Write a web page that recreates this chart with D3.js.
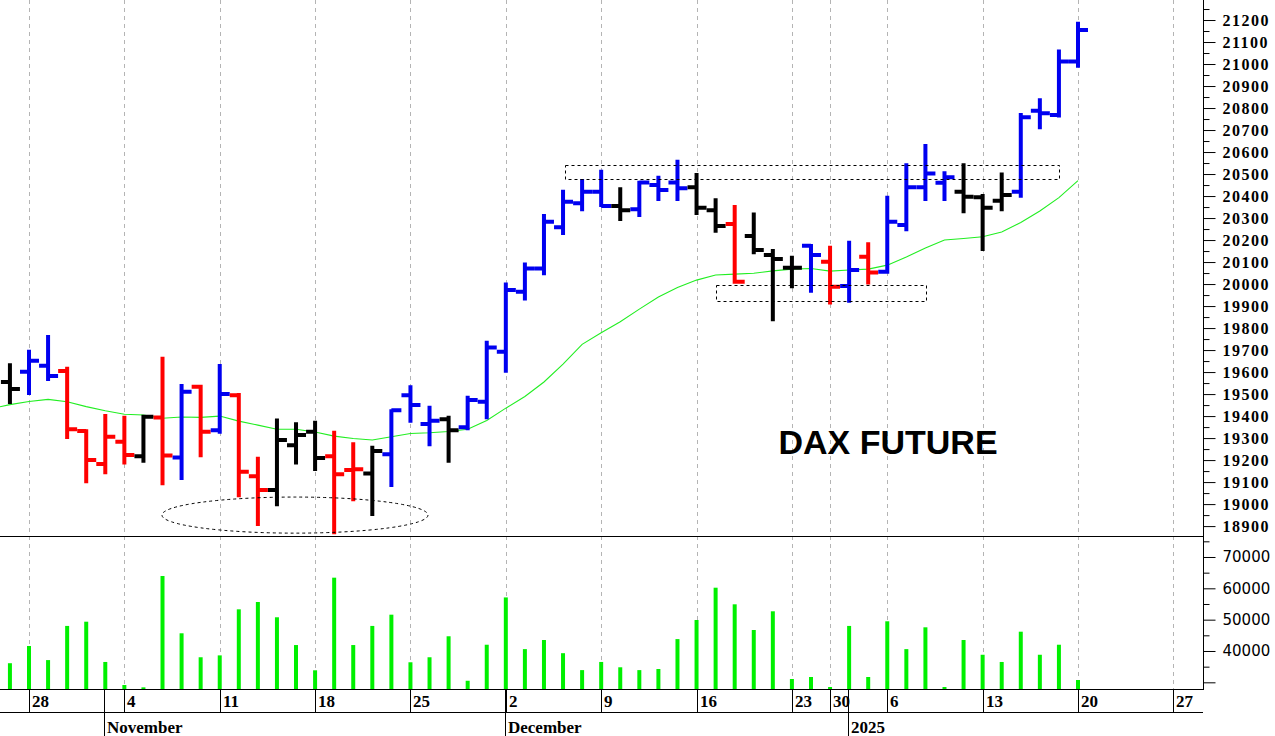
<!DOCTYPE html>
<html><head><meta charset="utf-8">
<script src="https://cdn.jsdelivr.net/npm/d3@7/dist/d3.min.js"></script>
<style>body{margin:0;background:#fff}svg{display:block}</style>
</head><body>
<svg id="c" width="1275" height="736"></svg>
<script>
// ---------------- DATA ----------------
// all trading sessions on the time axis (incl. future sessions up to the axis end)
const sessions = [
 "2024-10-24","2024-10-25","2024-10-28","2024-10-29","2024-10-30","2024-10-31","2024-11-01",
 "2024-11-04","2024-11-05","2024-11-06","2024-11-07","2024-11-08",
 "2024-11-11","2024-11-12","2024-11-13","2024-11-14","2024-11-15",
 "2024-11-18","2024-11-19","2024-11-20","2024-11-21","2024-11-22",
 "2024-11-25","2024-11-26","2024-11-27","2024-11-28","2024-11-29",
 "2024-12-02","2024-12-03","2024-12-04","2024-12-05","2024-12-06",
 "2024-12-09","2024-12-10","2024-12-11","2024-12-12","2024-12-13",
 "2024-12-16","2024-12-17","2024-12-18","2024-12-19","2024-12-20",
 "2024-12-23","2024-12-27","2024-12-30","2025-01-02","2025-01-03",
 "2025-01-06","2025-01-07","2025-01-08","2025-01-09","2025-01-10",
 "2025-01-13","2025-01-14","2025-01-15","2025-01-16","2025-01-17",
 "2025-01-20","2025-01-21","2025-01-22","2025-01-23","2025-01-24",
 "2025-01-27","2025-01-28","2025-01-29","2025-01-30","2025-01-31"
];
// price bars: Oct 25 2024 .. Jan 20 2025 (sessions[1..57])
const opens  = [19555,19601,19629,19605,19332,19182,19283,19218,19394,19212,19533,19336,19495,19127,19064,19268,19329,19218,19155,19139,19226,19495,19364,19386,19349,19465,19692,19965,20071,20258,20367,20420,20355,20340,20450,20462,20440,20336,20273,20218,20132,20074,20174,20101,19991,20124,20056,20268,20440,20460,20420,20394,20379,20420,20788,20768,21011];
const highs  = [19636,19697,19764,19620,19336,19405,19397,19401,19665,19541,19538,19632,19500,19211,19385,19367,19374,19329,19276,19261,19427,19536,19442,19397,19488,19738,20003,20094,20314,20424,20473,20515,20435,20465,20488,20560,20500,20385,20355,20321,20155,20124,20177,20170,20192,20185,20397,20545,20632,20508,20545,20405,20503,20773,20840,21061,21188];
const lows   = [19459,19500,19564,19300,19099,19140,19185,19192,19090,19114,19218,19324,19036,18905,18995,19185,19155,18867,19018,18950,19082,19374,19268,19192,19340,19390,19601,19930,20045,20227,20336,20355,20291,20309,20382,20382,20318,20238,20006,20140,19836,19985,19965,19912,19920,20003,20051,20245,20382,20382,20326,20155,20336,20397,20708,20761,20988];
const closes = [19523,19651,19582,19340,19200,19306,19223,19397,19221,19511,19329,19500,19147,19064,19291,19314,19210,19136,19158,19241,19427,19450,19379,19336,19473,19712,19973,20071,20283,20374,20420,20355,20336,20462,20427,20435,20347,20264,20011,20155,20114,20074,20132,19988,20064,20053,20283,20440,20503,20485,20397,20347,20405,20758,20776,21011,21155];
// bar signal category (as coloured in the source chart)
const signals = ["n","u","u","d","d","d","d","n","d","u","d","u","d","d","n","n","n","d","d","n","u","u","u","n","u","u","u","u","u","u","u","u","n","u","u","u","n","n","d","n","n","n","u","d","u","d","u","u","u","u","n","n","n","u","u","u","u"];
// volume (contracts) per bar
const volumes = [36100,41600,37100,48000,49350,36500,29150,28400,63940,45650,38000,38600,53300,55640,50760,41900,33840,63400,41900,48000,51590,36400,38000,44700,30500,42000,57100,40600,43500,39300,33900,36500,34800,33900,34250,43800,49900,60200,54900,46700,52670,31060,31700,28500,48000,31700,49480,40600,47560,28500,43500,38800,36500,46160,38800,42000,30740];
// moving average, sessions[0..57]
const movAvg = [19434,19452,19466,19476,19465,19443,19424,19408,19405,19390,19396,19394,19400,19377,19359,19340,19340,19328,19309,19298,19291,19306,19321,19324,19330,19340,19380,19436,19489,19555,19636,19726,19779,19829,19886,19941,19984,20018,20041,20045,20049,20060,20068,20071,20059,20064,20068,20086,20123,20164,20200,20207,20215,20237,20280,20332,20393,20470];
// axis labels
const monthLabels = ["November","December","2025"];
const priceTicks = d3.range(18900, 21300, 100);
const volumeTicks = [30000,40000,50000,60000,70000];
// annotations in data units (session index, price)
const ellipseSpan = [8.97, 22.92], ellipsePrices = [18868, 19032];
const upperBoxSpan = [30.1, 56.0], upperBoxPrices = [20476, 20541];
const lowerBoxSpan = [38.02, 49.03], lowerBoxPrices = [19923, 19995];
const titleText = "DAX FUTURE", titlePos = [47.04, 19228];

// ---------------- SCALES ----------------
const parse = d3.timeParse("%Y-%m-%d");
const dates = sessions.map(parse);
const AX = 1203;
const x = d3.scaleLinear().domain([0.4795, 63.554]).range([0, AX]);
const yP = d3.scaleLinear().domain([18855, 21291]).range([536, 0]);
const yV = d3.scaleLinear().domain([27870, 76700]).range([689, 536]);
const color = d3.scaleOrdinal().domain(["u","d","n"]).range(["#0000f0","#ff0000","#000000"]);

const svg = d3.select("#c");
svg.append("defs").append("clipPath").attr("id","pp")
  .append("rect").attr("x",0).attr("y",0).attr("width",AX).attr("height",536);

// week starts & month starts
const weekStarts = [], monthStarts = [];
dates.forEach((d,i)=>{
  if(i===0) return;
  const p = dates[i-1];
  if(d.getDay() < p.getDay() || (d - p) > 4*864e5) weekStarts.push(i);
  if(d.getMonth() !== p.getMonth()) monthStarts.push(i);
});

// ---------------- GRID ----------------
svg.append("g").selectAll("line").data(weekStarts).join("line")
  .attr("x1",i=>Math.round(x(i))+0.5).attr("x2",i=>Math.round(x(i))+0.5)
  .attr("y1",0).attr("y2",689)
  .attr("stroke","#b4b4b4").attr("stroke-width",1).attr("stroke-dasharray","4,4");

// ---------------- VOLUME ----------------
const barIdx = d3.range(opens.length);
svg.append("g").selectAll("line").data(barIdx).join("line")
  .attr("x1",i=>x(i+1)).attr("x2",i=>x(i+1))
  .attr("y1",689).attr("y2",i=>yV(volumes[i]))
  .attr("stroke","#00f000").attr("stroke-width",4);

// ---------------- PRICE PANE ----------------
const pane = svg.append("g").attr("clip-path","url(#pp)");
pane.append("path").datum(movAvg)
  .attr("fill","none").attr("stroke","#22ee22").attr("stroke-width",1.1)
  .attr("d", d3.line().x((v,i)=>x(i)).y(v=>yP(v)));

pane.append("g").selectAll("path").data(barIdx).join("path")
  .attr("fill","none").attr("stroke",i=>color(signals[i])).attr("stroke-width",4)
  .attr("d",i=>{
    const cx = x(i+1);
    return `M${cx},${yP(highs[i])-1}V${yP(lows[i])+1}`+
           `M${cx-9},${yP(opens[i])}H${cx}`+
           `M${cx},${yP(closes[i])}H${cx+10}`;
  });

// annotations
const dash = "3,3";
pane.append("ellipse")
  .attr("cx",(x(ellipseSpan[0])+x(ellipseSpan[1]))/2)
  .attr("cy",(yP(ellipsePrices[0])+yP(ellipsePrices[1]))/2)
  .attr("rx",(x(ellipseSpan[1])-x(ellipseSpan[0]))/2)
  .attr("ry",(yP(ellipsePrices[0])-yP(ellipsePrices[1]))/2)
  .attr("fill","none").attr("stroke","#000").attr("stroke-width",1).attr("stroke-dasharray",dash);
[[upperBoxSpan,upperBoxPrices],[lowerBoxSpan,lowerBoxPrices]].forEach(([s,p])=>{
  pane.append("rect")
    .attr("x",Math.round(x(s[0]))+0.5).attr("y",Math.round(yP(p[1]))+0.5)
    .attr("width",Math.round(x(s[1])-x(s[0]))).attr("height",Math.round(yP(p[0])-yP(p[1])))
    .attr("fill","none").attr("stroke","#000").attr("stroke-width",1).attr("stroke-dasharray",dash);
});
svg.append("text").text(titleText)
  .attr("x",x(titlePos[0])).attr("y",yP(titlePos[1]))
  .attr("text-anchor","middle")
  .style("font-family","'Liberation Sans',Arial,sans-serif").style("font-weight","bold").style("font-size","34px");

// ---------------- FRAME ----------------
const frame = svg.append("g").attr("stroke","#000").attr("stroke-width",1);
frame.append("line").attr("x1",0).attr("x2",AX).attr("y1",536.5).attr("y2",536.5);
frame.append("line").attr("x1",0).attr("x2",AX).attr("y1",689.5).attr("y2",689.5);
frame.append("line").attr("x1",0).attr("x2",AX).attr("y1",712.5).attr("y2",712.5);
frame.append("line").attr("x1",AX+0.5).attr("x2",AX+0.5).attr("y1",0).attr("y2",690);

// ---------------- RIGHT AXES ----------------
const serif = "'Liberation Serif','Times New Roman',serif";
const pAxisMinor = d3.axisRight(yP).tickValues(d3.range(18950, 21300, 100)).tickSize(6).tickFormat("");
const pAxisMajor = d3.axisRight(yP).tickValues(priceTicks).tickSize(12).tickPadding(7).tickFormat(d3.format("d"));
const gpMin = svg.append("g").attr("transform",`translate(${AX+0.5},0)`).call(pAxisMinor);
const gpMaj = svg.append("g").attr("transform",`translate(${AX+0.5},0)`).call(pAxisMajor);
[gpMin,gpMaj].forEach(g=>g.select(".domain").remove());
gpMaj.selectAll("text").style("font-family",serif).style("font-weight","bold")
  .style("font-size","16px").style("letter-spacing","1.5px").attr("fill","#000");

const vAxisMinor = d3.axisRight(yV).tickValues([35000,45000,55000,65000,75000]).tickSize(6).tickFormat("");
const vAxisMajor = d3.axisRight(yV).tickValues(volumeTicks).tickSize(12).tickPadding(7)
  .tickFormat(v=> v>=40000 ? d3.format("d")(v) : "");
const gvMin = svg.append("g").attr("transform",`translate(${AX+0.5},0)`).call(vAxisMinor);
const gvMaj = svg.append("g").attr("transform",`translate(${AX+0.5},0)`).call(vAxisMajor);
[gvMin,gvMaj].forEach(g=>g.select(".domain").remove());
gvMaj.selectAll("text").style("font-family","'DejaVu Sans',Verdana,sans-serif")
  .style("font-size","15px").attr("fill","#000");

// ---------------- BOTTOM AXIS ----------------
const fmtDay = d3.timeFormat("%-d");
const bot = svg.append("g");
bot.selectAll("line.wk").data(weekStarts).join("line").attr("class","wk")
  .attr("x1",i=>Math.round(x(i))+0.5).attr("x2",i=>Math.round(x(i))+0.5)
  .attr("y1",689).attr("y2",712).attr("stroke","#000");
bot.selectAll("text.wk").data(weekStarts).join("text").attr("class","wk")
  .attr("x",i=>Math.round(x(i))+3).attr("y",706.5).text(i=>fmtDay(dates[i]))
  .style("font-family",serif).style("font-weight","bold").style("font-size","17px");
bot.selectAll("line.mo").data(monthStarts).join("line").attr("class","mo")
  .attr("x1",i=>Math.round(x(i))-0.5).attr("x2",i=>Math.round(x(i))-0.5)
  .attr("y1",689).attr("y2",736).attr("stroke","#000");
bot.selectAll("text.mo").data(monthStarts).join("text").attr("class","mo")
  .attr("x",i=>Math.round(x(i))+2).attr("y",733).text((i,k)=>monthLabels[k])
  .style("font-family",serif).style("font-weight","bold").style("font-size","17px");
</script>
</body></html>
